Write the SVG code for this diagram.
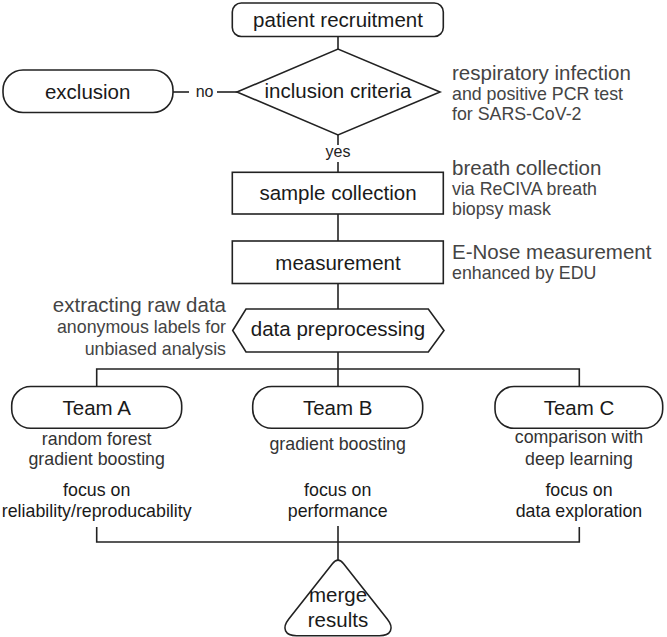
<svg xmlns="http://www.w3.org/2000/svg" width="667" height="637" viewBox="0 0 667 637">
<style>
.shape{fill:#fff;stroke:#222;stroke-width:1.6}
.line{fill:none;stroke:#222;stroke-width:1.6}
text{font-family:"Liberation Sans",Arial,sans-serif}
.lbl{font-size:20.5px;fill:#1a1a1a;text-anchor:middle}
.hd{font-size:20.5px;fill:#444}
.sub{font-size:17.8px;fill:#444}
.tm{font-size:17.8px;fill:#333;text-anchor:middle}
.fc{font-size:17.8px;fill:#1a1a1a;text-anchor:middle}
.yn{font-size:16px;fill:#222;text-anchor:middle}
</style>
<rect width="667" height="637" fill="#fff"/>
<g id="connectors">
<line class="line" x1="338" y1="36.5" x2="338" y2="49"/>
<line class="line" x1="173" y1="92" x2="189" y2="92"/>
<line class="line" x1="217" y1="92" x2="237" y2="92"/>
<line class="line" x1="338" y1="135" x2="338" y2="145"/>
<line class="line" x1="338" y1="162" x2="338" y2="172"/>
<line class="line" x1="338" y1="214" x2="338" y2="241"/>
<line class="line" x1="338" y1="283.5" x2="338" y2="309"/>
<line class="line" x1="338" y1="352" x2="338" y2="369"/>
<polyline class="line" points="96.7,386.5 96.7,369 579.3,369 579.3,386.5"/>
<line class="line" x1="338" y1="369" x2="338" y2="386.5"/>
<polyline class="line" points="96.7,527 96.7,542 579.3,542 579.3,527"/>
<line class="line" x1="338" y1="526" x2="338" y2="560"/>
<text class="yn" x="204.6" y="97">no</text>
<text class="yn" x="338" y="157">yes</text>
</g>
<g id="patient-recruitment">
<rect class="shape" x="232.3" y="3" width="211" height="33.5" rx="9"/>
<text class="lbl" x="338" y="27">patient recruitment</text>
</g>
<g id="inclusion-criteria">
<polygon class="shape" points="237,92 338,49 440,92 338,135"/>
<text class="lbl" x="338" y="97.5">inclusion criteria</text>
</g>
<g id="exclusion">
<rect class="shape" x="3" y="70" width="170" height="42.5" rx="20"/>
<text class="lbl" x="87.7" y="99">exclusion</text>
</g>
<g id="inclusion-note">
<text class="hd" x="452" y="80">respiratory infection</text>
<text class="sub" x="452" y="100">and positive PCR test</text>
<text class="sub" x="452" y="120">for SARS-CoV-2</text>
</g>
<g id="sample-collection">
<rect class="shape" x="232.3" y="172.3" width="211" height="41.7"/>
<text class="lbl" x="338" y="200">sample collection</text>
</g>
<g id="sample-note">
<text class="hd" x="452" y="175">breath collection</text>
<text class="sub" x="452" y="195">via ReCIVA breath</text>
<text class="sub" x="452" y="215">biopsy mask</text>
</g>
<g id="measurement">
<rect class="shape" x="232.3" y="241" width="211" height="42.5"/>
<text class="lbl" x="338" y="269.5">measurement</text>
</g>
<g id="measurement-note">
<text class="hd" x="452" y="258.5">E-Nose measurement</text>
<text class="sub" x="452" y="279">enhanced by EDU</text>
</g>
<g id="data-preprocessing">
<polygon class="shape" points="232.7,330.5 246,309 428.3,309 444,330.5 428.3,352 246,352"/>
<text class="lbl" x="338" y="335.5">data preprocessing</text>
</g>
<g id="preprocessing-note">
<text class="hd" x="226" y="311.7" text-anchor="end">extracting raw data</text>
<text class="sub" x="226" y="333" text-anchor="end">anonymous labels for</text>
<text class="sub" x="226" y="355" text-anchor="end">unbiased analysis</text>
</g>
<g id="team-a">
<rect class="shape" x="11.7" y="386.5" width="170" height="41.8" rx="19"/>
<text class="lbl" x="96.7" y="414.5">Team A</text>
<text class="tm" x="96.7" y="445">random forest</text>
<text class="tm" x="96.7" y="465">gradient boosting</text>
<text class="fc" x="96.7" y="496">focus on</text>
<text class="fc" x="96.7" y="516.7">reliability/reproducability</text>
</g>
<g id="team-b">
<rect class="shape" x="252.7" y="386.5" width="170" height="41.8" rx="19"/>
<text class="lbl" x="337.7" y="414.5">Team B</text>
<text class="tm" x="337.7" y="450">gradient boosting</text>
<text class="fc" x="337.7" y="496">focus on</text>
<text class="fc" x="337.7" y="516.7">performance</text>
</g>
<g id="team-c">
<rect class="shape" x="495" y="386.5" width="167.7" height="41.8" rx="19"/>
<text class="lbl" x="579" y="414.5">Team C</text>
<text class="tm" x="579" y="443">comparison with</text>
<text class="tm" x="579" y="465">deep learning</text>
<text class="fc" x="579" y="496">focus on</text>
<text class="fc" x="579" y="516.7">data exploration</text>
</g>
<g id="merge-results">
<path class="shape" d="M332.4,563.7 Q338,556.6 343.6,563.7 L387.4,619.2 C394.55,628.3 390.95,635.7 379.4,635.7 L296.6,635.7 C285.05,635.7 281.45,628.3 288.6,619.2 Z"/>
<text class="lbl" x="338" y="602">merge</text>
<text class="lbl" x="338" y="626.5">results</text>
</g>
</svg>
